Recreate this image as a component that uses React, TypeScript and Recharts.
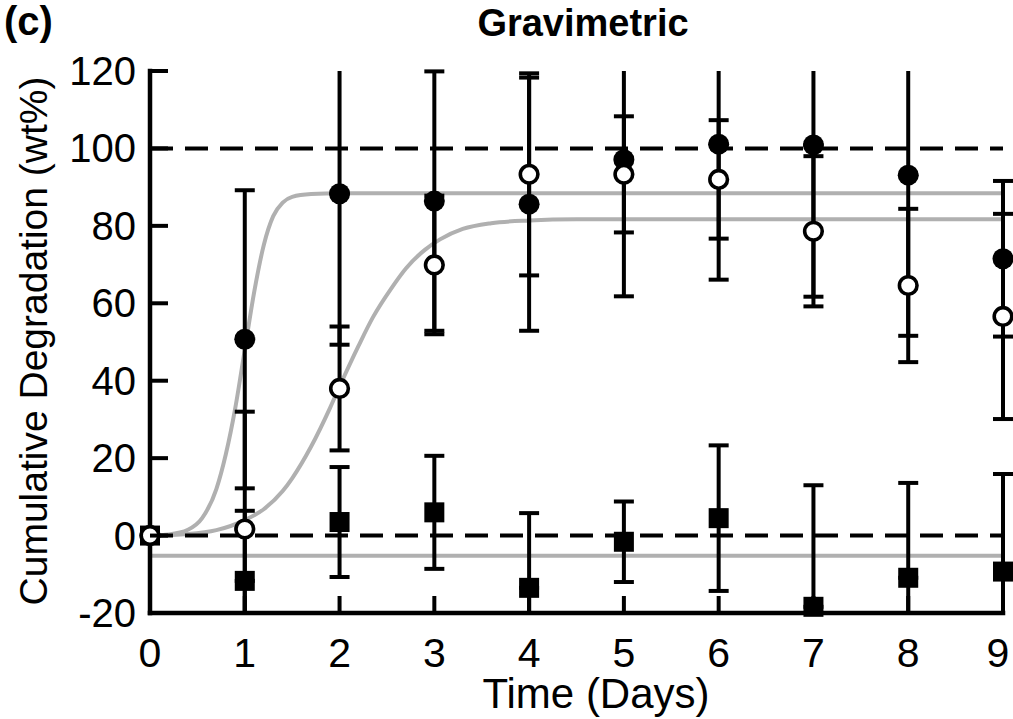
import React from 'react';
import { ComposedChart, Line, Scatter, ErrorBar, XAxis, YAxis, ReferenceLine } from 'recharts';

const days = [0, 1, 2, 3, 4, 5, 6, 7, 8, 9];
const xTicks = [0, 1, 2, 3, 4, 5, 6, 7, 8, 9];
const yTicks = [-20, 0, 20, 40, 60, 80, 100, 120];
const Y_MIN = -20;
const Y_MAX = 120;

// filled circles
const filledMean = [0, 50.7, 88.3, 86.4, 85.6, 97.1, 101.1, 100.9, 93.1, 71.5];
const filledErr = [0, 38.5, 39, 33.5, 32.7, 35.3, 35, 39.2, 41.5, 20.1];
// open circles
const openMean = [0, 1.7, 38.0, 69.9, 93.3, 93.3, 92.0, 78.6, 64.6, 56.6];
const openErr = [0, 30.3, 16, 17.9, 26.1, 15, 15.3, 19.4, 19.8, 26.5];
// filled squares
const squareMean = [0, -11.7, 3.5, 6.0, -13.5, -1.6, 4.5, -18.4, -10.9, -9.3];
const squareErr = [0, 18.1, 14.2, 14.6, 19.3, 10.4, 18.8, 31.4, 24.5, 25.2];

// fitted curves
const fitFilledX = [0, 0.2, 0.4, 0.55, 0.7, 0.8, 0.9, 1.0, 1.1, 1.2, 1.3, 1.4, 1.5, 1.7, 2.0, 9];
const fitFilledY = [0, 0.3, 1.5, 4.5, 12, 21, 33, 48, 63, 75, 82.5, 86, 87.5, 88.2, 88.4, 88.4];
const fitOpenX = [0, 0.4, 0.7, 1.0, 1.2, 1.4, 1.5, 1.7, 1.9, 2.0, 2.2, 2.35, 2.55, 2.7, 2.9, 3.06, 3.3, 3.6, 4.0, 4.5, 9];
const fitOpenY = [0, 0.4, 1.4, 4, 6.8, 11.5, 14.8, 23, 33, 38.5, 49, 56.3, 64, 69, 73.8, 76.5, 79.2, 80.7, 81.4, 81.7, 81.7];
const fitSquareX = [0, 9];
const fitSquareY = [-5.2, -5.2];

const FONT = '"Liberation Sans", Arial, Helvetica, sans-serif';

const pts = (m: number[]) => days.map((d, i) => ({ x: d, y: m[i] }));
// error bars: the sides that run past the frame have no cap (drawn as plain stems)
const errPts = (m: number[], e: number[]) =>
  days
    .map((d, i) => ({
      x: d,
      y: m[i],
      err: e[i],
      e: [m[i] - e[i] < Y_MIN ? 0 : e[i], m[i] + e[i] > Y_MAX ? 0 : e[i]],
    }))
    .filter((p) => p.err > 0);
const stems = (m: number[], e: number[]) => {
  const out: { x: number; y: number }[][] = [];
  days.forEach((d, i) => {
    if (e[i] <= 0) return;
    if (m[i] - e[i] < Y_MIN) out.push([{ x: d, y: m[i] }, { x: d, y: Y_MIN }]);
    if (m[i] + e[i] > Y_MAX) out.push([{ x: d, y: m[i] }, { x: d, y: Y_MAX }]);
  });
  return out;
};
const curve = (xs: number[], ys: number[]) => xs.map((x, i) => ({ x, y: ys[i] }));

const filledData = pts(filledMean);
const openData = pts(openMean);
const squareData = pts(squareMean);
const errSets = [
  errPts(filledMean, filledErr),
  errPts(openMean, openErr),
  errPts(squareMean, squareErr),
];
const stemSets = [
  ...stems(filledMean, filledErr),
  ...stems(openMean, openErr),
  ...stems(squareMean, squareErr),
];
const fitFilled = curve(fitFilledX, fitFilledY);
const fitOpen = curve(fitOpenX, fitOpenY);
const fitSquare = curve(fitSquareX, fitSquareY);

const axisLineStyle = { stroke: '#000', strokeWidth: 4.5, strokeLinecap: 'square' as const };

const YTick = (props: any) => {
  const { x, y, payload } = props;
  return (
    <g>
      <line x1={x} x2={x + 18} y1={y} y2={y} stroke="#000" strokeWidth={4} />
      <text x={x - 14} y={y + 14} textAnchor="end" fontSize={40} fontFamily={FONT} fill="#000">
        {payload.value}
      </text>
    </g>
  );
};

const XTick = (props: any) => {
  const { x, y, payload } = props;
  const shift = payload.value === 9 ? -5 : 0;
  return (
    <g>
      <line x1={x} x2={x} y1={y} y2={y - 17} stroke="#000" strokeWidth={4} />
      <text x={x + shift} y={y + 54} textAnchor="middle" fontSize={41} fontFamily={FONT} fill="#000">
        {payload.value}
      </text>
    </g>
  );
};

const none = () => <g />;
const filledCircle = (p: any) => <circle cx={p.cx} cy={p.cy} r={10.5} fill="#000" />;
const openCircle = (p: any) => <circle cx={p.cx} cy={p.cy} r={8.8} fill="#fff" stroke="#000" strokeWidth={3.6} />;
const square = (p: any) => <rect x={p.cx - 10} y={p.cy - 10} width={20} height={20} fill="#000" />;

const GRAY = '#b0b0b0';

export default function App() {
  return (
    <div style={{ position: 'absolute', left: 0, top: 0, width: 1013, height: 719, background: '#fff' }}>
      <ComposedChart width={1013} height={719} margin={{ top: 71, right: 10, bottom: 6, left: 0 }}>
        <XAxis
          dataKey="x"
          type="number"
          domain={[0, 9]}
          ticks={xTicks}
          height={100}
          axisLine={axisLineStyle}
          tickLine={false}
          tickSize={0}
          tickMargin={0}
          tick={<XTick />}
          interval={0}
        />
        <XAxis xAxisId="top" orientation="top" dataKey="x" type="number" domain={[0, 9]} height={0} tick={false} tickLine={false} axisLine={axisLineStyle} />
        <YAxis
          dataKey="y"
          type="number"
          domain={[Y_MIN, Y_MAX]}
          allowDataOverflow
          ticks={yTicks}
          width={150}
          axisLine={axisLineStyle}
          tickLine={false}
          tickSize={0}
          tickMargin={0}
          tick={<YTick />}
          interval={0}
        />
        <YAxis yAxisId="m" dataKey="y" type="number" domain={[Y_MIN, Y_MAX]} hide />
        <YAxis yAxisId="right" orientation="right" dataKey="y" type="number" domain={[Y_MIN, Y_MAX]} width={0} tick={false} tickLine={false} axisLine={axisLineStyle} />

        <Line data={fitFilled} dataKey="y" type="monotone" stroke={GRAY} strokeWidth={4} dot={false} activeDot={false} isAnimationActive={false} />
        <Line data={fitOpen} dataKey="y" type="monotone" stroke={GRAY} strokeWidth={4} dot={false} activeDot={false} isAnimationActive={false} />
        <Line data={fitSquare} dataKey="y" type="linear" stroke={GRAY} strokeWidth={4} dot={false} activeDot={false} isAnimationActive={false} />

        <ReferenceLine y={100} stroke="#000" strokeWidth={4} strokeDasharray="23 12" />
        <ReferenceLine y={0} stroke="#000" strokeWidth={4} strokeDasharray="23 12" />

        {stemSets.map((s, i) => (
          <Line key={'stem' + i} data={s} dataKey="y" type="linear" stroke="#000" strokeWidth={4} dot={false} activeDot={false} isAnimationActive={false} />
        ))}
        {errSets.map((s, i) => (
          <Scatter key={'err' + i} data={s} shape={none} isAnimationActive={false}>
            <ErrorBar dataKey="e" direction="y" width={10} stroke="#000" strokeWidth={4} isAnimationActive={false} />
          </Scatter>
        ))}

        <Scatter yAxisId="m" data={filledData} shape={filledCircle} isAnimationActive={false} />
        <Scatter yAxisId="m" data={squareData} shape={square} isAnimationActive={false} />
        <Scatter yAxisId="m" data={openData} shape={openCircle} isAnimationActive={false} />
      </ComposedChart>
      <svg width={1013} height={719} style={{ position: 'absolute', left: 0, top: 0, pointerEvents: 'none' }}>
        <text x={4} y={35} fontSize={40} fontWeight="bold" fontFamily={FONT} fill="#000">(c)</text>
        <text x={583} y={36} textAnchor="middle" fontSize={38} fontWeight="bold" fontFamily={FONT} fill="#000">Gravimetric</text>
        <text x={596} y={708} textAnchor="middle" fontSize={42} fontFamily={FONT} fill="#000">Time (Days)</text>
        <text
          x={0}
          y={0}
          transform="translate(47, 341) rotate(-90)"
          textAnchor="middle"
          fontSize={39}
          fontFamily={FONT}
          fill="#000"
        >
          Cumulative Degradation (wt%)
        </text>
      </svg>
    </div>
  );
}
